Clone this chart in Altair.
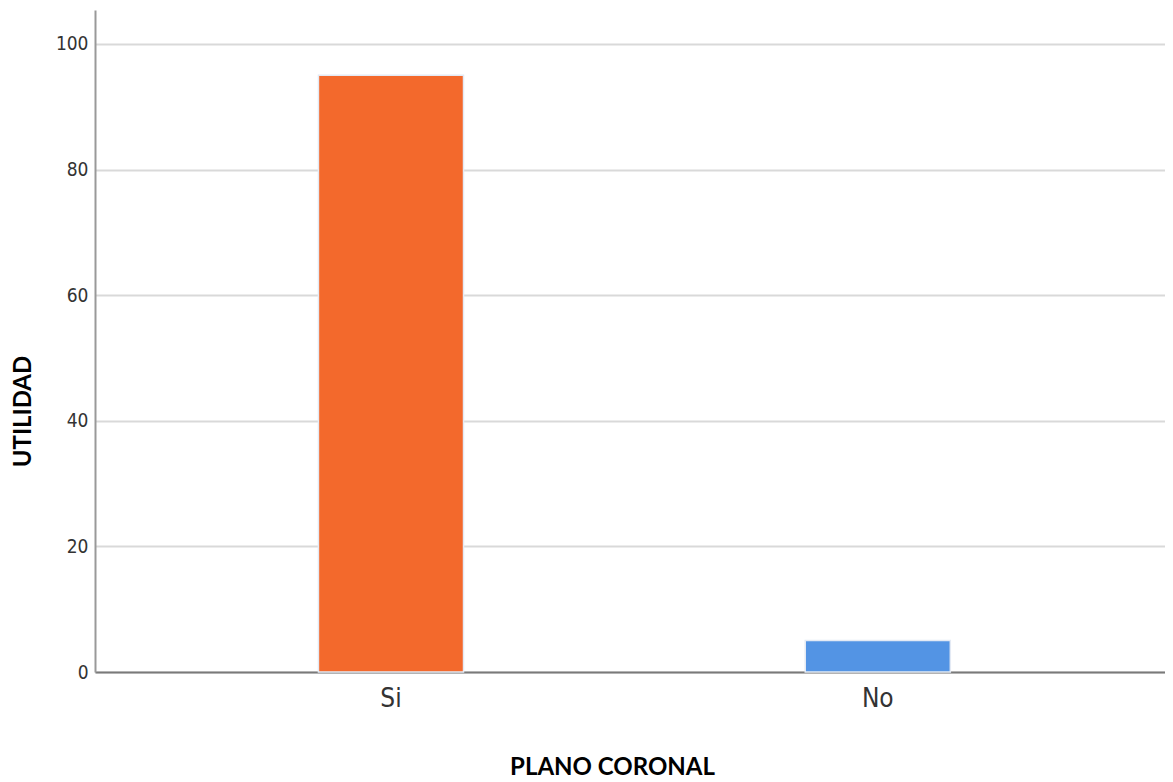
import altair as alt
import pandas as pd

categories = ["Si", "No"]
values = [95, 5]
colors = ["#F3692C", "#5394E4"]
y_ticks = [0, 20, 40, 60, 80, 100]

df = pd.DataFrame({"cat": categories, "val": values})

narrow = "Liberation Sans Narrow, DejaVu Sans Condensed, Arial Narrow, sans-serif"

chart = alt.Chart(df).mark_bar(stroke="#e4eaf4", strokeWidth=1.5).encode(
    x=alt.X("cat:N", sort=categories,
            scale=alt.Scale(paddingInner=0.702, paddingOuter=0.45, align=0.51),
            axis=alt.Axis(title="PLANO CORONAL", labelAngle=0, ticks=False, grid=False,
                          domainColor="#7a7a7a", domainWidth=2,
                          labelFont=narrow, labelFontSize=26, labelColor="#333333",
                          labelPadding=13,
                          titleFont="Lato", titleFontSize=24, titleFontWeight="bold",
                          titleColor="#000000", titleX=517, titleY=95,
                          titleBaseline="middle", titleAnchor="middle")),
    y=alt.Y("val:Q", scale=alt.Scale(domain=[0, 105.4], nice=False, zero=True),
            axis=alt.Axis(title="UTILIDAD", values=y_ticks, ticks=False,
                          domainColor="#999999", domainWidth=2,
                          gridColor="#d9d9d9", gridWidth=2,
                          labelFont=narrow, labelFontSize=19, labelColor="#333333",
                          labelPadding=7,
                          titleFont="Lato", titleFontSize=24, titleFontWeight="bold",
                          titleColor="#000000", titleAngle=270, titleX=-72, titleY=401,
                          titleBaseline="middle", titleAnchor="middle")),
    color=alt.Color("cat:N", scale=alt.Scale(domain=categories, range=colors), legend=None),
).properties(
    width=1070, height=662,
    autosize=alt.AutoSizeParams(type="none"),
    padding={"left": 87, "top": 2, "right": 0, "bottom": 110},
).configure_view(stroke=None)

chart.save("out.html", embed_options={"renderer": "svg", "actions": False})
